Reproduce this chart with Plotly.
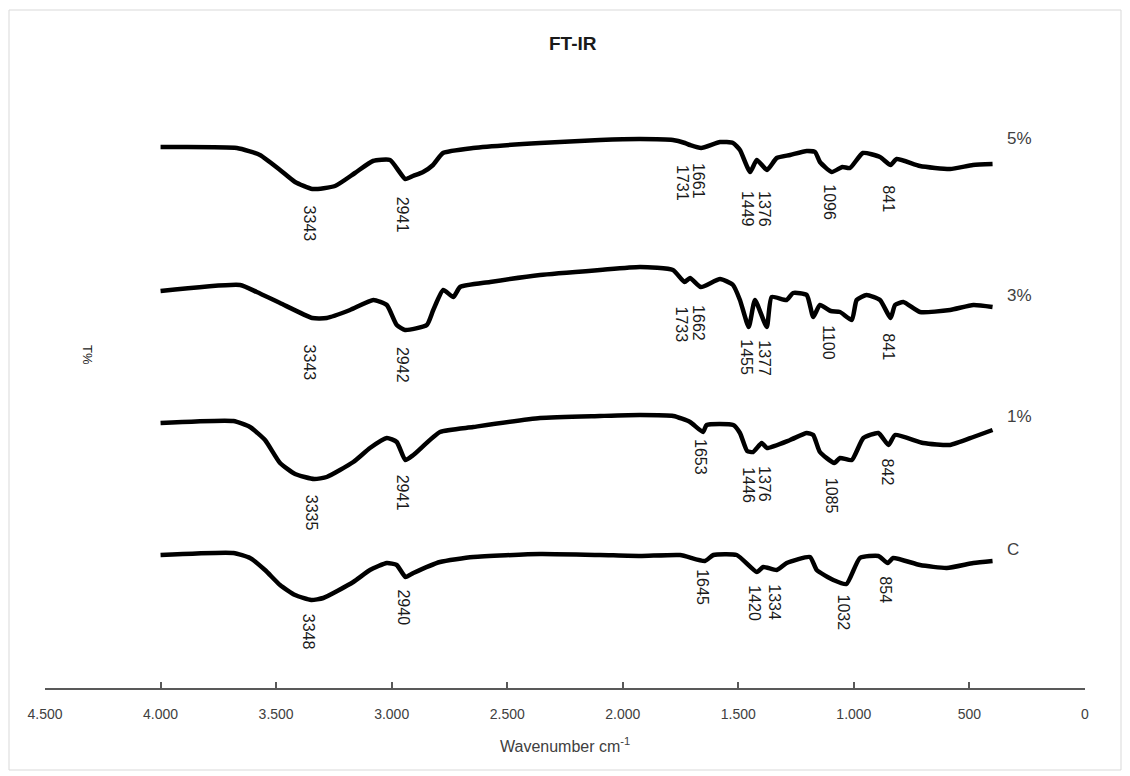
import plotly.graph_objects as go

# ---------------- data (T in arbitrary offset units) ----------------
wn_5 = [4000, 3670, 3570, 3483, 3418, 3343, 3245, 3159, 3081, 3007, 2941, 2908, 2864, 2821, 2778,
        2648, 2358, 2099, 1925, 1783, 1731, 1709, 1661, 1579, 1523, 1493, 1449, 1420, 1376, 1334,
        1276, 1204, 1168, 1147, 1096, 1050, 1017, 961, 887, 841, 815, 714, 584, 485, 400]
t_5 = [541, 540, 533, 518, 506, 499, 502, 515, 527, 528, 509, 512, 516, 523, 535,
       540, 545, 548, 549, 548, 545, 543, 540, 546, 545, 538, 516, 528, 518, 530,
       533, 537, 536, 526, 516, 521, 520, 535, 531, 523, 529, 522, 519, 523, 524]

wn_3 = [4000, 3656, 3584, 3483, 3343, 3281, 3180, 3079, 3021, 2978, 2942, 2848, 2820, 2777, 2733,
        2704, 2574, 2358, 2099, 1925, 1783, 1733, 1709, 1662, 1579, 1523, 1493, 1455, 1428, 1377,
        1356, 1291, 1263, 1204, 1176, 1147, 1100, 1060, 1009, 988, 945, 887, 841, 822, 786,
        714, 584, 483, 400]
t_3 = [397, 403, 396, 385, 370, 370, 378, 388, 383, 363, 358, 363, 378, 398, 391,
       401, 406, 413, 418, 421, 418, 406, 410, 401, 409, 403, 388, 361, 388, 361,
       391, 388, 395, 393, 371, 383, 377, 376, 368, 388, 393, 388, 370, 383, 386,
       376, 378, 383, 381]

wn_1 = [4000, 3685, 3613, 3548, 3483, 3418, 3335, 3281, 3166, 3094, 3021, 2978, 2941, 2906, 2791,
        2647, 2358, 2099, 1925, 1781, 1709, 1653, 1637, 1522, 1493, 1462, 1436, 1399, 1376, 1276,
        1204, 1176, 1147, 1085, 1060, 1009, 959, 894, 850, 822, 700, 584, 483, 400]
t_1 = [265, 267, 261, 248, 225, 214, 209, 211, 226, 240, 250, 246, 228, 233, 256,
       261, 270, 272, 273, 272, 266, 256, 263, 263, 255, 237, 236, 245, 240, 248,
       255, 253, 236, 225, 230, 228, 250, 255, 243, 253, 245, 243, 251, 258]

wn_c = [4000, 3685, 3613, 3548, 3483, 3418, 3348, 3296, 3166, 3094, 3021, 2978, 2940, 2906, 2791,
        2647, 2358, 2099, 1925, 1752, 1645, 1608, 1507, 1420, 1392, 1334, 1291, 1190, 1161, 1089,
        1032, 974, 894, 854, 830, 714, 598, 483, 400]
t_c = [133, 135, 130, 118, 103, 93, 88, 90, 106, 118, 125, 123, 111, 115, 126,
       131, 134, 133, 132, 133, 127, 133, 133, 116, 121, 118, 125, 131, 118, 108,
       104, 130, 132, 125, 130, 123, 120, 125, 127]

series_names = ["5%", "3%", "1%", "C"]

peaks_5 = [3343, 2941, 1731, 1661, 1449, 1376, 1096, 841]
peaks_3 = [3343, 2942, 1733, 1662, 1455, 1377, 1100, 841]
peaks_1 = [3335, 2941, 1653, 1446, 1376, 1085, 842]
peaks_c = [3348, 2940, 1645, 1420, 1334, 1032, 854]

tick_vals = [4500, 4000, 3500, 3000, 2500, 2000, 1500, 1000, 500, 0]
tick_text = ["4.500", "4.000", "3.500", "3.000", "2.500", "2.000", "1.500", "1.000", "500", "0"]

# ---------------- layout settings (label placement) ----------------
label_y_5 = [464, 473, 505, 507, 479, 479, 486, 489]
label_y_3 = [325, 323, 363, 365, 331, 330, 345, 341]
label_y_1 = [175, 195, 231, 203, 204, 192, 216]
label_y_c = [56, 81, 101, 85, 86, 75, 98]
name_pos = [(346, 550), (346, 393), (346, 272), (346, 139)]

FONT = "Liberation Sans, Arial, sans-serif"

fig = go.Figure()
for wn, t in [(wn_5, t_5), (wn_3, t_3), (wn_1, t_1), (wn_c, t_c)]:
    fig.add_trace(go.Scatter(x=wn, y=t, mode="lines",
                             line=dict(color="black", width=4.5, shape="spline", smoothing=0.5),
                             showlegend=False, hoverinfo="skip"))

annotations = []
for peaks, ys in [(peaks_5, label_y_5), (peaks_3, label_y_3), (peaks_1, label_y_1), (peaks_c, label_y_c)]:
    for p, yy in zip(peaks, ys):
        annotations.append(dict(x=p, y=yy, xref="x", yref="y", text=str(p), showarrow=False,
                                textangle=90, xshift=-2, xanchor="center", yanchor="middle",
                                font=dict(family=FONT, size=16, color="#1a1a1a")))
for name, (px, py) in zip(series_names, name_pos):
    annotations.append(dict(x=px, y=py, xref="x", yref="y", text=name, showarrow=False,
                            xanchor="left", yanchor="middle",
                            font=dict(family=FONT, size=17, color="#404040")))

annotations.append(dict(x=(573 - 45) / 1040, y=(688 - 44) / 593, xref="paper", yref="paper",
                        text="<b>FT-IR</b>", showarrow=False, xanchor="center", yanchor="middle",
                        font=dict(family=FONT, size=19, color="#1a1a1a")))
annotations.append(dict(x=(565 - 45) / 1040, y=(688 - 745) / 593, xref="paper", yref="paper",
                        text="Wavenumber cm<sup>-1</sup>", showarrow=False,
                        xanchor="center", yanchor="middle",
                        font=dict(family=FONT, size=16, color="#404040")))
annotations.append(dict(x=(88 - 45) / 1040, y=(688 - 355) / 593, xref="paper", yref="paper",
                        text="T%", showarrow=False, textangle=90, xanchor="center", yanchor="middle",
                        font=dict(family=FONT, size=13, color="#1a1a1a")))

fig.update_layout(
    width=1122, height=768,
    margin=dict(l=37, r=45, t=87, b=88),
    paper_bgcolor="white", plot_bgcolor="white",
    xaxis=dict(range=[4500, 0], tickvals=tick_vals, ticktext=tick_text,
               showgrid=False, zeroline=False, showline=True, linecolor="#595959", linewidth=1.5,
               ticks="inside", ticklen=6, tickcolor="#595959", tickwidth=1.5,
               ticklabelstandoff=12,
               tickfont=dict(family=FONT, size=14, color="#404040")),
    yaxis=dict(range=[0, 593], visible=False, showgrid=False, zeroline=False),
    annotations=annotations,
    shapes=[dict(type="rect", xref="paper", yref="paper",
                 x0=(9 - 45) / 1040, x1=(1121 - 45) / 1040,
                 y0=(688 - 770) / 593, y1=(688 - 10) / 593,
                 line=dict(color="#d9d9d9", width=1))],
)

fig.write_html("out.html")
